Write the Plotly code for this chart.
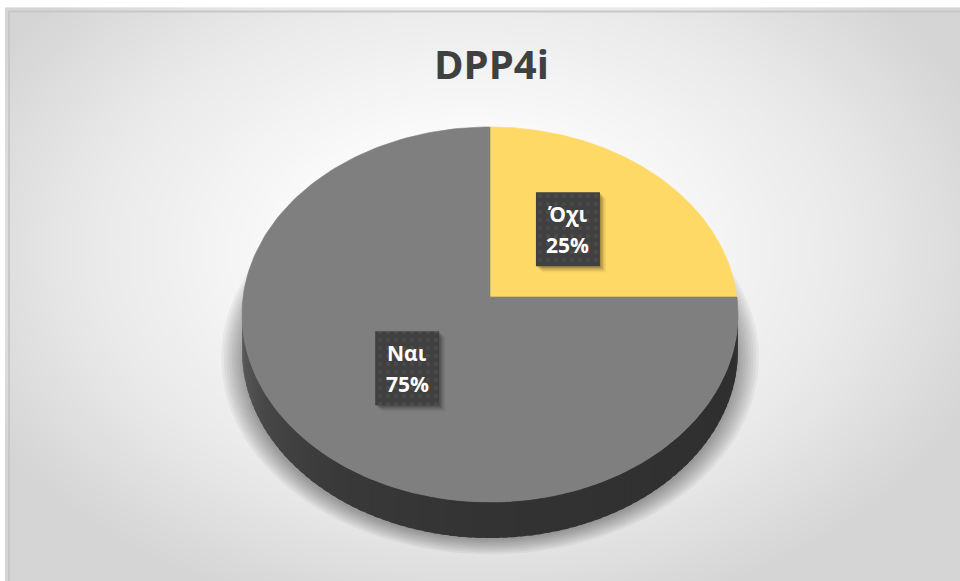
import numpy as np
import plotly.graph_objects as go

title = "DPP4i"
categories = ["Όχι", "Ναι"]
percentages = [25, 75]
slice_colors = ["#FFD966", "#7F7F7F"]

W, H = 960, 581

# 3-D pie geometry (screen pixels)
CX, CY = 490, 297     # pie centre on the top face
SX, SY = 246.9, 185.9 # horizontal / vertical radius scale
P = 0.0933            # perspective strength
DEPTH = 36            # thickness of the disc


def project(phi, r=1.0):
    """phi: radians clockwise from 12 o'clock, r: fraction of the radius."""
    X = r * np.sin(phi)
    Z = r * np.cos(phi)
    w = 1 + P * Z
    return CX + SX * X / w, CY - SY * Z / w


def hex_rgb(c):
    c = c.lstrip("#")
    return [int(c[i:i + 2], 16) for i in (0, 2, 4)]


def rect(x, y, w, h):
    return ([x - w / 2, x + w / 2, x + w / 2, x - w / 2, x - w / 2],
            [y - h / 2, y - h / 2, y + h / 2, y + h / 2, y - h / 2])


fig = go.Figure()

# radial grey background of the chart area
gx = np.linspace(9, 964, 120)
gy = np.linspace(11, 585, 80)
GX, GY = np.meshgrid(gx, gy)
rr = np.sqrt(((GX - 470) / 520) ** 2 + ((GY - 250) / 360) ** 2)
fig.add_trace(go.Heatmap(
    x=gx, y=gy, z=rr, zsmooth="best", showscale=False, hoverinfo="skip",
    zmin=0, zmax=1.05,
    colorscale=[[0, "#ffffff"], [0.3, "#fbfbfb"], [0.7, "#e9e9e9"], [1, "#d5d5d5"]],
))

# soft shadow under the disc
t = np.linspace(0, 2 * np.pi, 181)
for i in range(9):
    rx = 248 + 2.6 * i
    ry = 182 + 1.8 * i
    fig.add_trace(go.Scatter(
        x=490 + rx * np.cos(t), y=358 + ry * np.sin(t),
        mode="lines", fill="toself", fillcolor="rgba(0,0,0,0.045)",
        line=dict(width=0), hoverinfo="skip", showlegend=False,
    ))

# slice angles from the data
total = sum(percentages)
bounds = np.concatenate([[0], np.cumsum(percentages) / total * 2 * np.pi])


def slice_of(phi):
    k = int(np.searchsorted(bounds, phi, side="right") - 1)
    return min(max(k, 0), len(percentages) - 1)


# side wall (visible on the near half only), shaded from left to right
phi_r = np.arccos(-P)
phi_l = 2 * np.pi - phi_r
shade_deg = [95, 180, 215, 240, 258, 266]
shade_fac = [0.36, 0.40, 0.45, 0.56, 0.70, 0.76]
edges = np.linspace(phi_r, phi_l, 91)
step = edges[1] - edges[0]
for a0, a1 in zip(edges[:-1], edges[1:]):
    mid = 0.5 * (a0 + a1)
    base = hex_rgb(slice_colors[slice_of(mid)])
    f = np.interp(np.degrees(mid), shade_deg, shade_fac)
    col = "rgb({},{},{})".format(*[int(round(v * f)) for v in base])
    arc = np.linspace(a0, min(a1 + 0.6 * step, phi_l), 4)
    xt, yt = project(arc)
    xs = np.concatenate([xt, xt[::-1]])
    ys = np.concatenate([yt, yt[::-1] + DEPTH])
    fig.add_trace(go.Scatter(
        x=xs, y=ys, mode="lines", fill="toself", fillcolor=col,
        line=dict(width=0), hoverinfo="skip", showlegend=False,
    ))

# top faces of the slices
for k, (name, pct) in enumerate(zip(categories, percentages)):
    arc = np.linspace(bounds[k], bounds[k + 1], 200)
    xa, ya = project(arc)
    xs = np.concatenate([[CX], xa, [CX]])
    ys = np.concatenate([[CY], ya, [CY]])
    fig.add_trace(go.Scatter(
        x=xs, y=ys, mode="lines", fill="toself", fillcolor=slice_colors[k],
        line=dict(width=0.6, color=slice_colors[k]), name=name,
        hoverinfo="skip", showlegend=False,
    ))

# data labels: dark textured boxes with a soft drop shadow
BOX_W, BOX_H = 64, 74
lab_x, lab_y = [], []
for k in range(len(percentages)):
    mid = 0.5 * (bounds[k] + bounds[k + 1])
    x, y = project(mid, 0.46)
    lab_x.append(float(x))
    lab_y.append(float(y) + (-9 if np.cos(mid) > 0 else 9))

for x, y in zip(lab_x, lab_y):
    for off, alpha in [(6, 0.05), (4.5, 0.08), (3, 0.12), (1.5, 0.14)]:
        rx_, ry_ = rect(x + off, y + off, BOX_W, BOX_H)
        fig.add_trace(go.Scatter(
            x=rx_, y=ry_, mode="lines", fill="toself",
            fillcolor=f"rgba(0,0,0,{alpha})", line=dict(width=0),
            hoverinfo="skip", showlegend=False,
        ))
    rx_, ry_ = rect(x, y, BOX_W, BOX_H)
    fig.add_trace(go.Scatter(
        x=rx_, y=ry_, mode="lines", fill="toself", fillcolor="#404040",
        fillpattern=dict(shape=".", fgcolor="#555555", bgcolor="#404040",
                         size=8, solidity=0.2),
        line=dict(width=0), hoverinfo="skip", showlegend=False,
    ))

annotations = []
for name, pct, x, y in zip(categories, percentages, lab_x, lab_y):
    for txt, dy in [(name, -15), (f"{pct}%", 16)]:
        annotations.append(dict(
            x=x, y=y + dy, xref="x", yref="y", text=txt, showarrow=False,
            xanchor="center", yanchor="middle",
            font=dict(family="Open Sans", size=21, color="white", weight="bold"),
        ))

annotations.append(dict(
    x=491, y=63, xref="x", yref="y", text=title, showarrow=False,
    xanchor="center", yanchor="middle",
    font=dict(family="Open Sans", size=40, color="#404040", weight="bold"),
))

# chart frame (top and left edges)
shapes = [
    dict(type="line", x0=9, x1=W, y0=11.5, y1=11.5, xref="x", yref="y",
         line=dict(color="#c8c8c8", width=2)),
    dict(type="line", x0=9, x1=9, y0=11, y1=H, xref="x", yref="y",
         line=dict(color="#c8c8c8", width=2)),
]

fig.update_layout(
    width=W, height=H, margin=dict(l=0, r=0, t=0, b=0),
    paper_bgcolor="white", plot_bgcolor="white",
    xaxis=dict(range=[0, W], visible=False, fixedrange=True),
    yaxis=dict(range=[H, 0], visible=False, fixedrange=True),
    annotations=annotations, shapes=shapes, showlegend=False,
)

fig.write_html("out.html")
